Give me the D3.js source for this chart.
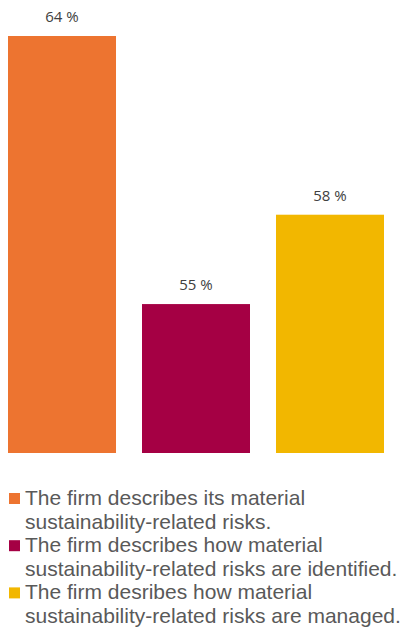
<!DOCTYPE html>
<html>
<head>
<meta charset="utf-8">
<script src="https://cdn.jsdelivr.net/npm/d3@7"></script>
<style>
  html, body { margin: 0; padding: 0; background: #fff; }
  svg { display: block; }
</style>
</head>
<body>
<svg id="chart" width="403" height="631"></svg>
<script>
// values
const categories = ["describes", "identified", "managed"];
const values = [64, 55, 58];
const colors = ["#ED7430", "#A50044", "#F2B700"];
const legendLines = [
  ["The firm describes its material", "sustainability-related risks."],
  ["The firm describes how material", "sustainability-related risks are identified."],
  ["The firm desribes how material", "sustainability-related risks are managed."]
];

const svg = d3.select("#chart");

const x = d3.scaleBand()
  .domain(categories)
  .range([8, 384])
  .paddingInner(0.194)
  .paddingOuter(0);

// axis is not drawn; baseline sits at 50
const y = d3.scaleLinear()
  .domain([50, 64])
  .range([453, 36]);

svg.append("g")
  .selectAll("rect")
  .data(values)
  .enter().append("rect")
  .attr("x", (d, i) => x(categories[i]))
  .attr("y", d => y(d))
  .attr("width", x.bandwidth())
  .attr("height", d => y(50) - y(d))
  .attr("fill", (d, i) => colors[i]);

svg.append("g")
  .selectAll("text")
  .data(values)
  .enter().append("text")
  .attr("x", (d, i) => x(categories[i]) + x.bandwidth() / 2)
  .attr("y", d => y(d) - 14)
  .attr("text-anchor", "middle")
  .style("font-family", "'Open Sans', sans-serif")
  .style("font-size", "15px")
  .style("fill", "#404040")
  .text(d => `${d} %`);

// legend
const lineStep = 23.6;
const legend = svg.append("g").attr("transform", "translate(0,505)");
legendLines.forEach((lines, i) => {
  const g = legend.append("g").attr("transform", `translate(0,${i * 2 * lineStep})`);
  g.append("rect")
    .attr("x", 9)
    .attr("y", -12)
    .attr("width", 11)
    .attr("height", 11)
    .attr("fill", colors[i]);
  lines.forEach((t, j) => {
    g.append("text")
      .attr("x", 25)
      .attr("y", j * lineStep)
      .style("font-family", "'Liberation Sans', Arial, sans-serif")
      .style("font-size", "21px")
      .style("fill", "#595959")
      .text(t);
  });
});
</script>
</body>
</html>
